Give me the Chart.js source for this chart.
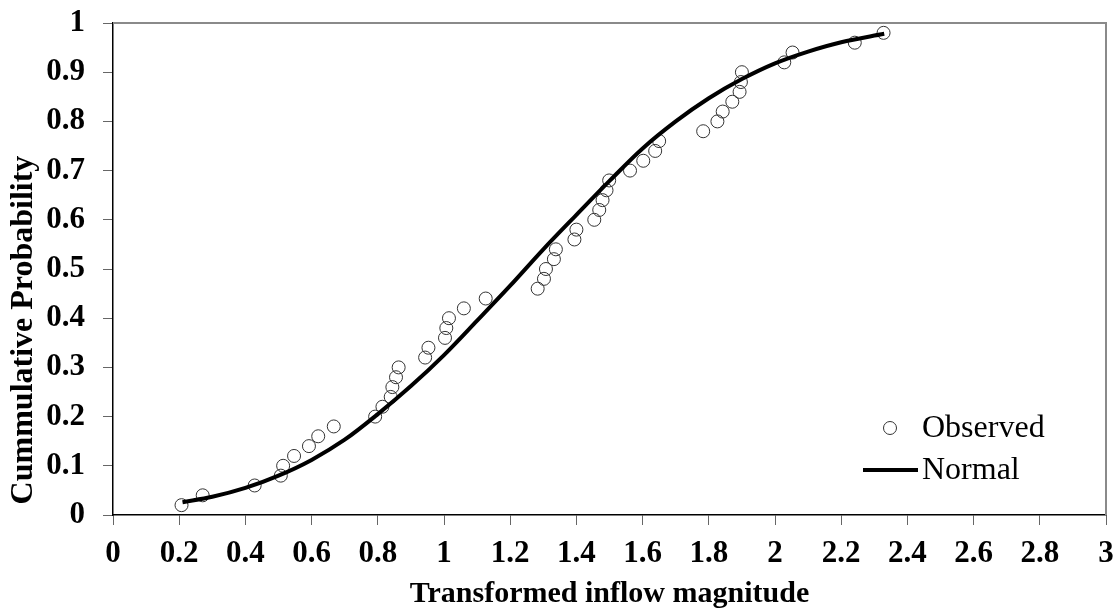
<!DOCTYPE html>
<html>
<head>
<meta charset="utf-8">
<title>Cumulative probability of transformed inflow</title>
<script src="https://cdn.jsdelivr.net/npm/chart.js@4.4.0/dist/chart.umd.min.js"></script>
<style>
html, body { margin: 0; padding: 0; background: #fff; }
</style>
</head>
<body>
<canvas id="cdfChart" width="1117" height="612"></canvas>
<script>
// observed plotting positions
const observedX = [0.207, 0.271, 0.428, 0.507, 0.514, 0.547, 0.592, 0.620, 0.667, 0.792,
                   0.814, 0.839, 0.844, 0.855, 0.863, 0.943, 0.953, 1.003, 1.007, 1.015,
                   1.060, 1.126, 1.283, 1.302, 1.308, 1.332, 1.338, 1.394, 1.400, 1.454,
                   1.469, 1.479, 1.491, 1.499, 1.562, 1.602, 1.638, 1.650, 1.783, 1.826,
                   1.842, 1.871, 1.893, 1.897, 1.900, 2.028, 2.053, 2.241, 2.328];
const observedP = [0.02, 0.04, 0.06, 0.08, 0.10, 0.12, 0.14, 0.16, 0.18, 0.20,
                   0.22, 0.24, 0.26, 0.28, 0.30, 0.32, 0.34, 0.36, 0.38, 0.40,
                   0.42, 0.44, 0.46, 0.48, 0.50, 0.52, 0.54, 0.56, 0.58, 0.60,
                   0.62, 0.64, 0.66, 0.68, 0.70, 0.72, 0.74, 0.76, 0.78, 0.80,
                   0.82, 0.84, 0.86, 0.88, 0.90, 0.92, 0.94, 0.96, 0.98];

// fitted normal curve
const normalX = [0.21, 0.3, 0.4, 0.5, 0.6, 0.7, 0.8, 0.9, 1.0, 1.1, 1.2,
                 1.3, 1.4, 1.5, 1.6, 1.7, 1.8, 1.9, 2.0, 2.1, 2.2, 2.33];
const normalP = [0.026, 0.037, 0.055, 0.080, 0.112, 0.153, 0.205, 0.262, 0.325, 0.395, 0.466,
                 0.540, 0.610, 0.679, 0.745, 0.800, 0.847, 0.886, 0.918, 0.942, 0.961, 0.978];

const seriesNames = ['Observed', 'Normal'];
const xAxisTitle = 'Transformed inflow magnitude';
const yAxisTitle = 'Cummulative Probability';

const serif = '"Liberation Serif", "Times New Roman", serif';

function toPoints(xs, ys) {
    return xs.map((x, i) => ({ x: x, y: ys[i] }));
}

function plainNumber(value) {
    return String(Number(value.toFixed(1)));
}

// fixed axis box sizes, no extra padding from labels
function fixBox(size, horizontal) {
    return function (scale) {
        if (horizontal) scale.height = size; else scale.width = size;
        scale.paddingTop = 0;
        scale.paddingBottom = 0;
        scale.paddingLeft = 0;
        scale.paddingRight = 0;
    };
}

// gray frame on top and right of the plot area
const framePlugin = {
    id: 'frame',
    afterDraw(chart) {
        const ctx = chart.ctx;
        const a = chart.chartArea;
        ctx.save();
        ctx.strokeStyle = '#8a8a8a';
        ctx.lineWidth = 2;
        ctx.beginPath();
        ctx.moveTo(a.left, a.top);
        ctx.lineTo(a.right, a.top);
        ctx.lineTo(a.right, a.bottom);
        ctx.stroke();
        ctx.restore();
    }
};

// y axis title, sits a little below the middle of the axis
const yTitlePlugin = {
    id: 'yTitle',
    afterDraw(chart) {
        const ctx = chart.ctx;
        const a = chart.chartArea;
        ctx.save();
        ctx.translate(24, a.bottom - 185);
        ctx.rotate(-Math.PI / 2);
        ctx.fillStyle = '#000';
        ctx.font = 'bold 32px ' + serif;
        ctx.textAlign = 'center';
        ctx.textBaseline = 'middle';
        ctx.fillText(yAxisTitle, 0, 0);
        ctx.restore();
    }
};

// legend sitting inside the lower right corner
const cornerLegend = {
    id: 'cornerLegend',
    afterDraw(chart) {
        const ctx = chart.ctx;
        const a = chart.chartArea;
        const ds = chart.data.datasets;
        const textX = a.right - 184;
        const row1 = a.bottom - 87;
        const row2 = a.bottom - 45;
        ctx.save();
        // circle marker
        ctx.strokeStyle = ds[0].borderColor;
        ctx.lineWidth = 1;
        ctx.beginPath();
        ctx.arc(a.right - 216, row1, ds[0].pointRadius, 0, Math.PI * 2);
        ctx.stroke();
        // line marker
        ctx.strokeStyle = ds[1].borderColor;
        ctx.lineWidth = ds[1].borderWidth;
        ctx.beginPath();
        ctx.moveTo(a.right - 243, row2);
        ctx.lineTo(a.right - 188, row2);
        ctx.stroke();
        ctx.fillStyle = '#000';
        ctx.font = '32px ' + serif;
        ctx.textBaseline = 'middle';
        ctx.textAlign = 'left';
        ctx.fillText(ds[0].label, textX, row1 + 1);
        ctx.fillText(ds[1].label, textX, row2 + 1);
        ctx.restore();
    }
};

window.addEventListener('DOMContentLoaded', function () {
    const ctx = document.getElementById('cdfChart').getContext('2d');
    new Chart(ctx, {
        type: 'scatter',
        data: {
            datasets: [{
                label: seriesNames[0],
                data: toPoints(observedX, observedP),
                showLine: false,
                pointStyle: 'circle',
                pointRadius: 6.5,
                pointBorderWidth: 1,
                borderColor: '#333333',
                backgroundColor: 'rgba(0,0,0,0)',
                order: 1
            }, {
                label: seriesNames[1],
                data: toPoints(normalX, normalP),
                showLine: true,
                pointRadius: 0,
                borderColor: '#000000',
                borderWidth: 4,
                cubicInterpolationMode: 'monotone',
                fill: false,
                order: 0
            }]
        },
        plugins: [framePlugin, yTitlePlugin, cornerLegend],
        options: {
            responsive: false,
            devicePixelRatio: 1,
            animation: false,
            layout: {
                padding: { top: 23, right: 11, left: 0, bottom: 0 }
            },
            plugins: {
                legend: { display: false },
                tooltip: { enabled: false }
            },
            scales: {
                x: {
                    type: 'linear',
                    min: 0,
                    max: 3,
                    afterFit: fixBox(97, true),
                    ticks: {
                        stepSize: 0.2,
                        color: '#000',
                        padding: 10,
                        maxRotation: 0,
                        callback: plainNumber,
                        font: { family: serif, size: 31, weight: 'bold' }
                    },
                    grid: {
                        drawOnChartArea: false,
                        tickLength: 10,
                        color: '#666'
                    },
                    border: { color: '#000', width: 1.5 },
                    title: {
                        display: true,
                        text: xAxisTitle,
                        color: '#000',
                        padding: { top: 4, bottom: 0 },
                        font: { family: serif, size: 30, weight: 'bold' }
                    }
                },
                y: {
                    type: 'linear',
                    min: 0,
                    max: 1,
                    afterFit: fixBox(113, false),
                    ticks: {
                        stepSize: 0.1,
                        color: '#000',
                        padding: 18,
                        callback: plainNumber,
                        font: { family: serif, size: 31, weight: 'bold' }
                    },
                    grid: {
                        drawOnChartArea: false,
                        tickLength: 10,
                        color: '#666'
                    },
                    border: { color: '#000', width: 1.5 },
                    title: { display: false }
                }
            }
        }
    });
});
</script>
</body>
</html>
